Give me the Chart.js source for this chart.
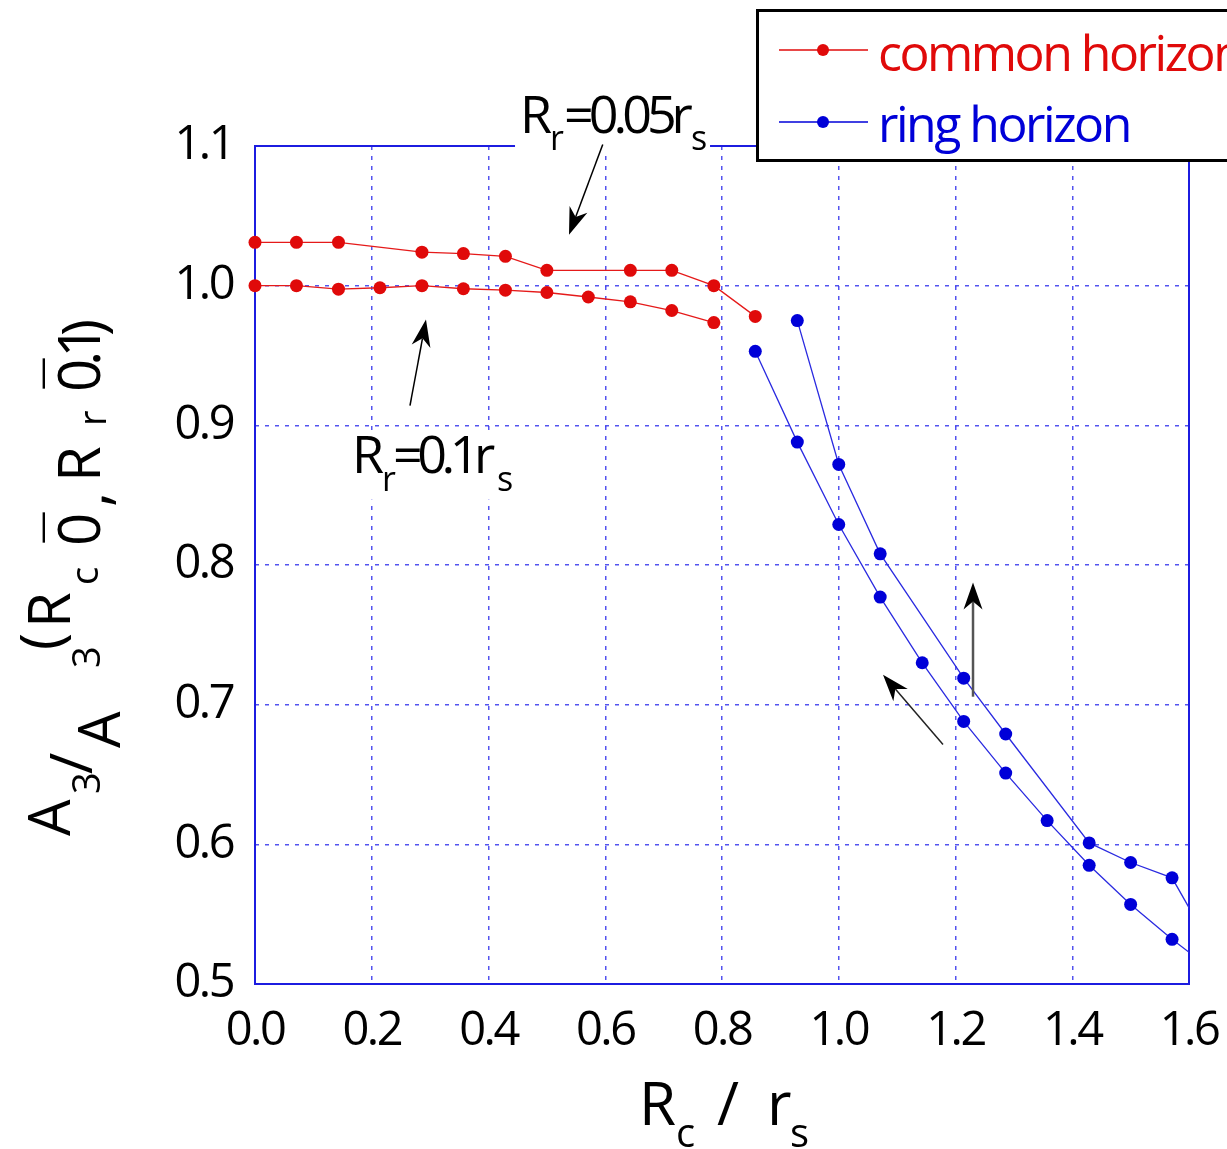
<!DOCTYPE html>
<html><head><meta charset="utf-8">
<style>html,body{margin:0;padding:0;background:#fff;overflow:hidden}#wrap{width:1227px;height:1149px;position:relative}</style>
<script src="https://cdn.jsdelivr.net/npm/chart.js@4.4.1/dist/chart.umd.min.js"></script>
</head><body><div id="wrap"><canvas id="c" width="1227" height="1149"></canvas></div>
<script>
// ---- data (Rc/rs, A3 ratio) ----
const xCommon005 = [0, 0.071, 0.143, 0.286, 0.357, 0.429, 0.5, 0.643, 0.714, 0.786, 0.857];
const yCommon005 = [1.031, 1.031, 1.031, 1.024, 1.023, 1.021, 1.011, 1.011, 1.011, 1.000, 0.978];
const xCommon01 = [0, 0.071, 0.143, 0.214, 0.286, 0.357, 0.429, 0.5, 0.571, 0.643, 0.714, 0.786];
const yCommon01 = [1.000, 1.000, 0.9975, 0.9985, 1.000, 0.9978, 0.9968, 0.9951, 0.9919, 0.9884, 0.9822, 0.9736];
const xRing005 = [0.929, 1.0, 1.071, 1.214, 1.286, 1.429, 1.5, 1.571, 1.643];
const yRing005 = [0.975, 0.872, 0.808, 0.719, 0.679, 0.601, 0.587, 0.576, 0.523];
const xRing01 = [0.857, 0.929, 1.0, 1.071, 1.143, 1.214, 1.286, 1.357, 1.429, 1.5, 1.571, 1.643];
const yRing01 = [0.953, 0.888, 0.829, 0.777, 0.730, 0.688, 0.651, 0.617, 0.585, 0.557, 0.532, 0.509];
const xTicks = [0, 0.2, 0.4, 0.6, 0.8, 1.0, 1.2, 1.4, 1.6];
const yTicks = [0.5, 0.6, 0.7, 0.8, 0.9, 1.0, 1.1];
const legendLabels = ['common horizon', 'ring horizon'];

const RED = '#e00a0a', BLUE = '#0000d8';
const FAM = '"Open Sans", "Noto Sans", sans-serif';
const pts = (xs, ys) => xs.map((x, i) => ({x, y: ys[i]}));
const clip = {left: 12, top: 12, right: 0, bottom: 12};
function ds(label, xs, ys, col, lineCol) {
  return {label, data: pts(xs, ys), borderColor: lineCol, backgroundColor: col,
    pointBackgroundColor: col, pointBorderWidth: 0, pointRadius: 6.5, borderWidth: 1.3,
    showLine: true, fill: false, tension: 0, clip};
}

function arrow(ctx, x1, y1, x2, y2, col, lw) {
  const a = Math.atan2(y2 - y1, x2 - x1), L = 27, W = 9.5, N = 19;
  const bx = x2 - L * Math.cos(a), by = y2 - L * Math.sin(a);
  ctx.save();
  ctx.strokeStyle = col; ctx.lineWidth = lw; ctx.setLineDash([]);
  ctx.beginPath(); ctx.moveTo(x1, y1);
  ctx.lineTo(x2 - N * Math.cos(a), y2 - N * Math.sin(a)); ctx.stroke();
  ctx.fillStyle = '#000';
  ctx.beginPath(); ctx.moveTo(x2, y2);
  ctx.lineTo(bx + W * Math.sin(a), by - W * Math.cos(a));
  ctx.lineTo(x2 - N * Math.cos(a), y2 - N * Math.sin(a));
  ctx.lineTo(bx - W * Math.sin(a), by + W * Math.cos(a));
  ctx.closePath(); ctx.fill();
  ctx.restore();
}
function runs(ctx, list, ox, oy) {
  for (const r of list) {
    ctx.font = r.s + 'px ' + FAM;
    ctx.letterSpacing = (r.ls || 0) + 'px';
    ctx.fillText(r.t, ox + r.x, oy + r.b);
  }
}

const deco = {
  id: 'deco',
  beforeDraw(chart) { chart.ctx.letterSpacing = '-2.5px'; },
  beforeDatasetsDraw(chart) {
    const {ctx, chartArea: a} = chart;
    ctx.save(); ctx.setLineDash([]);
    ctx.strokeStyle = '#1c1ce0'; ctx.lineWidth = 2;
    ctx.strokeRect(a.left, a.top, a.right - a.left, a.bottom - a.top);
    ctx.restore();
  },
  afterDatasetsDraw(chart) {
    const {ctx, chartArea: a} = chart;
    const X = v => chart.scales.x.getPixelForValue(v), Y = v => chart.scales.y.getPixelForValue(v);
    ctx.save();
    ctx.textAlign = 'left'; ctx.textBaseline = 'alphabetic'; ctx.fillStyle = '#000';
    // label R_r = 0.05 r_s
    let lx = X(0.454), ly = Y(1.1095);
    ctx.fillStyle = '#fff'; ctx.fillRect(lx - 5, ly - 45, 195, 68);
    ctx.fillStyle = '#000';
    runs(ctx, [
      {t: 'R', s: 52, x: 0, b: 0, ls: 0},
      {t: 'r', s: 34, x: 30, b: 17},
      {t: '=0.05r', s: 52, x: 44, b: 0, ls: -5},
      {t: 's', s: 34, x: 171, b: 17}
    ], lx, ly);
    arrow(ctx, X(0.5957), Y(1.101), X(0.5379), Y(1.0365), '#000', 1.5);
    // label R_r = 0.1 r_s
    lx = X(0.1662); ly = Y(0.8661);
    ctx.fillStyle = '#fff'; ctx.fillRect(lx - 4, ly - 41, 166, 68);
    ctx.fillStyle = '#000';
    runs(ctx, [
      {t: 'R', s: 52, x: 0, b: 0, ls: 0},
      {t: 'r', s: 34, x: 30, b: 18},
      {t: '=0.1r', s: 52, x: 41, b: 0, ls: -5.5},
      {t: 's', s: 34, x: 145, b: 18}
    ], lx, ly);
    arrow(ctx, X(0.2655), Y(0.9141), X(0.2929), Y(0.9757), '#000', 1.5);
    // arrows near ring horizon
    arrow(ctx, X(1.230), Y(0.7057), X(1.230), Y(0.7874), '#555', 2.5);
    arrow(ctx, X(1.1786), Y(0.6714), X(1.0758), Y(0.7215), '#222', 1.5);

    // x title
    const cx = (a.left + a.right) / 2;
    runs(ctx, [
      {t: 'R', s: 60, x: -83, b: 0},
      {t: 'c', s: 40, x: -46, b: 22},
      {t: '/', s: 60, x: -5, b: 0},
      {t: 'r', s: 60, x: 45, b: 0},
      {t: 's', s: 40, x: 68, b: 22}
    ], cx, 1125);

    // y title (rotated)
    ctx.save();
    ctx.translate(0, 836); ctx.rotate(-Math.PI / 2);
    runs(ctx, [
      {t: 'A', s: 58, x: 0, b: 70},
      {t: '3', s: 38, x: 42, b: 100},
      {t: '/', s: 58, x: 62, b: 92},
      {t: 'A', s: 58, x: 88, b: 120},
      {t: '3', s: 38, x: 168, b: 100},
      {t: '(', s: 58, x: 186, b: 62},
      {t: 'R', s: 58, x: 208, b: 70},
      {t: 'c', s: 38, x: 251, b: 98},
      {t: '0', s: 58, x: 290, b: 100},
      {t: '\u2014', s: 33, x: 292, b: 53},
      {t: ',', s: 58, x: 329, b: 108},
      {t: 'R', s: 58, x: 354, b: 100},
      {t: 'r', s: 38, x: 410, b: 106},
      {t: '0', s: 58, x: 444, b: 100},
      {t: '\u2014', s: 33, x: 446, b: 53},
      {t: '.1', s: 58, x: 470, b: 100, ls: -7},
      {t: ')', s: 58, x: 500, b: 104}
    ], 0, 0);
    ctx.restore();

    // legend
    ctx.fillStyle = '#fff'; ctx.fillRect(757, 10, 480, 150);
    ctx.strokeStyle = '#000'; ctx.lineWidth = 3; ctx.setLineDash([]);
    ctx.strokeRect(757.5, 10.5, 480, 150);
    const items = [[legendLabels[0], RED, 50, 71], [legendLabels[1], BLUE, 122, 142]];
    for (const [lab, col, yy, base] of items) {
      ctx.strokeStyle = col; ctx.lineWidth = 1.5;
      ctx.beginPath(); ctx.moveTo(779, yy); ctx.lineTo(868, yy); ctx.stroke();
      ctx.fillStyle = col; ctx.beginPath(); ctx.arc(823, yy, 6, 0, Math.PI * 2); ctx.fill();
      ctx.font = '50px ' + FAM; ctx.letterSpacing = '-2.5px';
      ctx.fillText(lab, 878, base);
    }
    ctx.restore();
  },
  afterDraw(chart) { chart.ctx.letterSpacing = '0px'; }
};

const gridOpts = {color: 'rgba(40,40,235,0.8)', lineWidth: 1.5, drawTicks: false};
new Chart(document.getElementById('c'), {
  type: 'scatter',
  data: {datasets: [
    ds('common horizon (Rr=0.05)', xCommon005, yCommon005, RED, '#e51a1a'),
    ds('common horizon (Rr=0.1)', xCommon01, yCommon01, RED, '#e51a1a'),
    ds('ring horizon (Rr=0.05)', xRing005, yRing005, BLUE, '#2a2ae0'),
    ds('ring horizon (Rr=0.1)', xRing01, yRing01, BLUE, '#2a2ae0')
  ]},
  options: {
    responsive: false, animation: false, events: [],
    layout: {padding: {top: 146, right: 38, left: 0, bottom: 0}},
    plugins: {legend: {display: false}, tooltip: {enabled: false}},
    scales: {
      x: {type: 'linear', min: 0, max: 1.6,
        afterFit(s) { s.height = 165; s.paddingLeft = 0; s.paddingRight = 0; },
        afterBuildTicks(s) { s.ticks = xTicks.map(v => ({value: v})); },
        ticks: {callback: v => Number(v).toFixed(1), font: {family: FAM, size: 47}, color: '#000', padding: 19, maxRotation: 0, autoSkip: false},
        grid: gridOpts, border: {display: false, dash: [4, 6]}},
      y: {type: 'linear', min: 0.5, max: 1.1,
        afterFit(s) { s.width = 255; s.paddingTop = 0; s.paddingBottom = 0; },
        afterBuildTicks(s) { s.ticks = yTicks.map(v => ({value: v})); },
        ticks: {callback: v => Number(v).toFixed(1), font: {family: FAM, size: 47}, color: '#000', padding: 22, autoSkip: false},
        grid: gridOpts, border: {display: false, dash: [4, 6]}}
    }
  },
  plugins: [deco]
});
</script></body></html>
